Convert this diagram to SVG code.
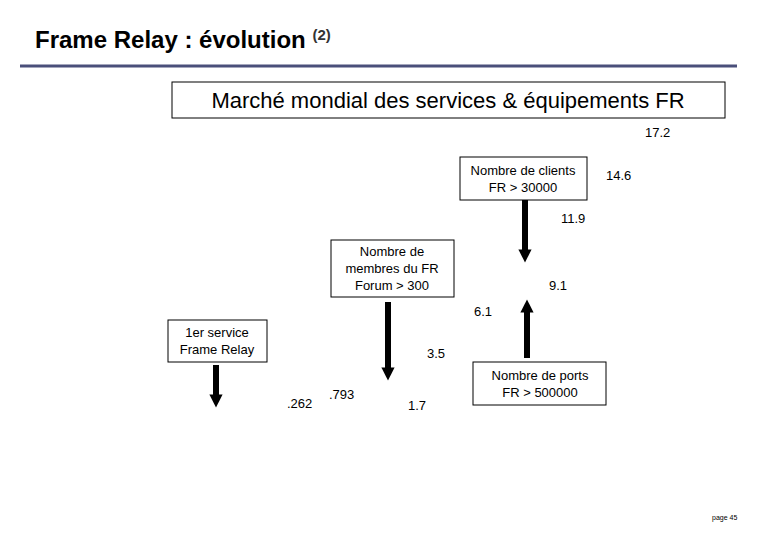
<svg xmlns="http://www.w3.org/2000/svg" width="780" height="540" viewBox="0 0 780 540">
<style>
text{font-family:"Liberation Sans",Arial,sans-serif;fill:#000}
.n{font-size:13px}
.b{fill:#fff;stroke:#000;stroke-width:1}
.bt{font-size:13px;text-anchor:middle}
.a{stroke:#000;stroke-width:6}
</style>
<defs>
<marker id="h" viewBox="0 0 10 10" refX="5" refY="5" markerWidth="2.2" markerHeight="2.6" orient="auto" markerUnits="strokeWidth"><path d="M0,0L10,5L0,10z" fill="#000"/></marker>
</defs>
<rect width="780" height="540" fill="#fff"/>
<text x="35" y="48" font-size="24" font-weight="bold" fill="#222">Frame Relay : évolution <tspan font-size="15" dy="-8" fill="#333">(2)</tspan></text>
<line x1="20" y1="66" x2="737" y2="66" stroke="#4a4f7a" stroke-width="3"/>
<g id="market"><rect class="b" x="172" y="82" width="553" height="36"/><text x="448" y="108" font-size="22" text-anchor="middle">Marché mondial des services &amp; équipements FR</text></g>
<g id="clients"><rect class="b" x="460" y="157" width="127" height="43"/><text class="bt" x="523" y="175">Nombre de clients</text><text class="bt" x="523" y="192">FR &gt; 30000</text></g>
<g id="forum"><rect class="b" x="331" y="240" width="123" height="57"/><text class="bt" x="392" y="256">Nombre de</text><text class="bt" x="392" y="273">membres du FR</text><text class="bt" x="392" y="290">Forum &gt; 300</text></g>
<g id="service"><rect class="b" x="168" y="320" width="99" height="42"/><text class="bt" x="217" y="337">1er service</text><text class="bt" x="217" y="354">Frame Relay</text></g>
<g id="ports"><rect class="b" x="473" y="362" width="133" height="43"/><text class="bt" x="540" y="380">Nombre de ports</text><text class="bt" x="540" y="397">FR &gt; 500000</text></g>
<g id="connectors">
<line class="a" x1="525" y1="200" x2="525" y2="256" marker-end="url(#h)"/>
<line class="a" x1="388" y1="302" x2="388" y2="374" marker-end="url(#h)"/>
<line class="a" x1="527" y1="358" x2="527" y2="306" marker-end="url(#h)"/>
<line class="a" x1="216" y1="365" x2="216" y2="401" marker-end="url(#h)"/>
</g>
<g id="values">
<text class="n" x="645" y="137">17.2</text>
<text class="n" x="606" y="180">14.6</text>
<text class="n" x="561" y="223">11.9</text>
<text class="n" x="549" y="290">9.1</text>
<text class="n" x="474" y="316">6.1</text>
<text class="n" x="427" y="358">3.5</text>
<text class="n" x="408" y="410">1.7</text>
<text class="n" x="329" y="399">.793</text>
<text class="n" x="287" y="408">.262</text>
</g>
<text x="712" y="520" font-size="7">page 45</text>
</svg>
